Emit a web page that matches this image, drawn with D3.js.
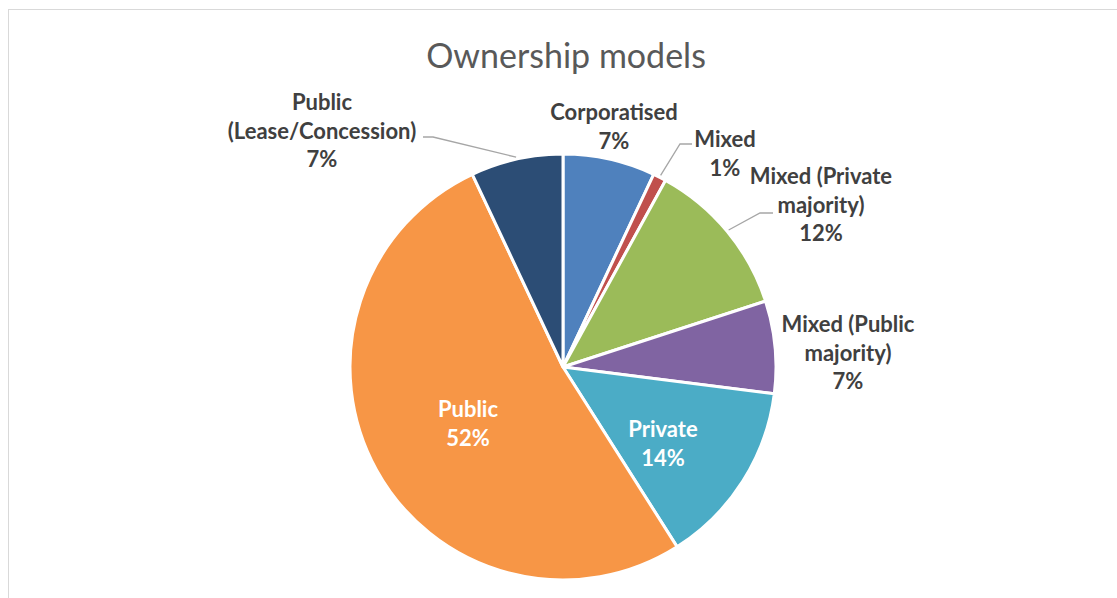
<!DOCTYPE html>
<html>
<head>
<meta charset="utf-8">
<script src="https://cdn.jsdelivr.net/npm/d3@7"></script>
<style>
  html, body { margin: 0; padding: 0; background: #fff; }
  svg { display: block; }
</style>
</head>
<body>
<svg id="chart" width="1117" height="598"></svg>
<script>
// Ownership model shares (percent)
const categories = [
  "Corporatised",
  "Mixed",
  "Mixed (Private majority)",
  "Mixed (Public majority)",
  "Private",
  "Public",
  "Public (Lease/Concession)"
];
const values = [7, 1, 12, 7, 14, 52, 7];
const colors = ["#4F81BD", "#C0504D", "#9BBB59", "#8064A2", "#4BACC6", "#F79646", "#2C4D75"];

// Label text lines for each slice
const labelLines = [
  ["Corporatised", "7%"],
  ["Mixed", "1%"],
  ["Mixed (Private", "majority)", "12%"],
  ["Mixed (Public", "majority)", "7%"],
  ["Private", "14%"],
  ["Public", "52%"],
  ["Public", "(Lease/Concession)", "7%"]
];

const svg = d3.select("#chart");
const W = 1117, H = 598;
const cx = 563, cy = 367, R = 213;

// chart area frame
svg.append("rect")
  .attr("x", 8.5).attr("y", 9.5)
  .attr("width", W + 20).attr("height", H + 20)
  .attr("fill", "#fff").attr("stroke", "#d9d9d9").attr("stroke-width", 1);

svg.append("text")
  .attr("x", 566).attr("y", 68)
  .attr("text-anchor", "middle")
  .attr("font-family", "Lato, 'Open Sans', sans-serif")
  .attr("font-size", 34)
  .attr("fill", "#595959")
  .text("Ownership models");

const data = categories.map((c, i) => ({ name: c, value: values[i], color: colors[i], lines: labelLines[i] }));

const pie = d3.pie().value(d => d.value).sort(null);
const arc = d3.arc().innerRadius(0).outerRadius(R);
const arcs = pie(data);

const g = svg.append("g").attr("transform", `translate(${cx},${cy})`);
g.selectAll("path.slice")
  .data(arcs)
  .join("path")
  .attr("class", "slice")
  .attr("d", arc)
  .attr("fill", d => d.data.color)
  .attr("stroke", "#fff")
  .attr("stroke-width", 3)
  .attr("stroke-linejoin", "round");

// label placement (center of text block)
const labelPos = {
  "Corporatised": { x: 614, y: 127, dark: true },
  "Mixed": { x: 725, y: 154, dark: true },
  "Mixed (Private majority)": { x: 821, y: 205, dark: true },
  "Mixed (Public majority)": { x: 848, y: 353, dark: true },
  "Private": { x: 663, y: 444, dark: false },
  "Public": { x: 468, y: 424, dark: false },
  "Public (Lease/Concession)": { x: 322, y: 131, dark: true }
};

// leader lines: from text edge, via an elbow, to the slice's outer edge at its mid-angle
const leaders = {
  "Mixed": { from: [692, 144], elbow: [680, 144] },
  "Mixed (Private majority)": { from: [773, 213], elbow: [760, 213] },
  "Public (Lease/Concession)": { from: [423, 137], elbow: [433, 137] }
};

const lineH = 28.5;
arcs.forEach(a => {
  const name = a.data.name;
  const p = labelPos[name];
  const ld = leaders[name];
  if (ld) {
    const mid = (a.startAngle + a.endAngle) / 2;
    const edge = [cx + Math.sin(mid) * (R + 2), cy - Math.cos(mid) * (R + 2)];
    svg.append("polyline")
      .attr("points", [ld.from, ld.elbow, edge].map(q => q.join(",")).join(" "))
      .attr("fill", "none")
      .attr("stroke", "#a6a6a6")
      .attr("stroke-width", 1.3);
  }
  const lines = a.data.lines;
  const t = svg.append("text")
    .attr("text-anchor", "middle")
    .attr("font-family", "Lato, 'Open Sans', sans-serif")
    .attr("font-weight", "bold")
    .attr("font-size", 22)
    .attr("fill", p.dark ? "#404040" : "#ffffff");
  const y0 = p.y - (lines.length - 1) * lineH / 2;
  lines.forEach((s, i) => {
    t.append("tspan")
      .attr("x", p.x)
      .attr("y", y0 + i * lineH)
      .attr("dy", "0.35em")
      .text(s);
  });
});
</script>
</body>
</html>
